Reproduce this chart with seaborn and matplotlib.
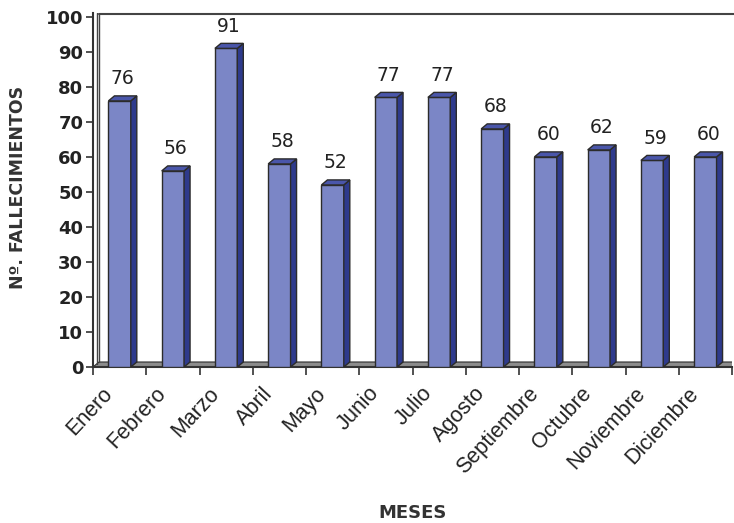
import numpy as np
import pandas as pd
import matplotlib
matplotlib.use("Agg")
import matplotlib.pyplot as plt
import matplotlib.transforms as mtransforms
from matplotlib.patches import Polygon
import seaborn as sns

# datos
meses = ["Enero", "Febrero", "Marzo", "Abril", "Mayo", "Junio", "Julio",
         "Agosto", "Septiembre", "Octubre", "Noviembre", "Diciembre"]
fallecimientos = [76, 56, 91, 58, 52, 77, 77, 68, 60, 62, 59, 60]
y_ticks = [0, 10, 20, 30, 40, 50, 60, 70, 80, 90, 100]

df = pd.DataFrame({"mes": meses, "n": fallecimientos})

sns.set_style("white")
plt.rcParams["font.family"] = ["DejaVu Sans"]

W, H = 734, 523
fig = plt.figure(figsize=(W / 100, H / 100), dpi=100)
ax = fig.add_axes([93 / W, 1 - 367 / H, (732 - 93) / W, (367 - 13) / H])

cara = "#7b86c6"
lado = "#2e3a8c"
tapa = "#4a56aa"
borde = "#2b2b2b"

sns.barplot(data=df, x="mes", y="n", color=cara, width=0.42,
            edgecolor=borde, linewidth=1.0, saturation=1, ax=ax, zorder=3)

ymax = 101.1
ax.set_xlim(-0.5, len(meses) - 0.5)
ax.set_ylim(0, ymax)

# profundidad 3D en unidades de datos (px -> datos)
px_x = len(meses) / (732 - 93)
px_y = ymax / (367 - 13)
dx, dy = 6 * px_x, 5 * px_y

barras = list(ax.patches)

# suelo y pared del fondo
x0, x1 = -0.5, len(meses) - 0.5
ax.add_patch(Polygon([(x0, 0), (x1, 0), (x1 + dx, dy), (x0 + dx, dy)],
                     closed=True, facecolor="#8c8c8c", edgecolor=borde, lw=0.8, zorder=1))
ax.plot([x0 + 0.6 * dx, x0 + 0.6 * dx], [0.6 * dy, ymax], color="#444444", lw=1.0, zorder=1)
ax.plot([x0 + dx, x0 + dx], [dy, ymax], color="#444444", lw=1.0, zorder=1)
ax.plot([x0 + dx, x1 + dx], [ymax - 0.2, ymax - 0.2], color="#444444", lw=1.5,
        zorder=1, clip_on=False)

for p, v in zip(barras, fallecimientos):
    xl = p.get_x()
    xr = xl + p.get_width()
    h = p.get_height()
    ax.add_patch(Polygon([(xr, 0), (xr + dx, dy), (xr + dx, h + dy), (xr, h)],
                         closed=True, facecolor=lado, edgecolor=borde, lw=1.0, zorder=3))
    ax.add_patch(Polygon([(xl, h), (xr, h), (xr + dx, h + dy), (xl + dx, h + dy)],
                         closed=True, facecolor=tapa, edgecolor=borde, lw=1.0, zorder=3))
    ax.text(xl + (p.get_width() + dx) / 2, h + dy + 2.2, str(v), ha="center", va="bottom",
            fontsize=13.5, color="#222222", zorder=4)

ax.set_xlabel("")
ax.set_ylabel("")
ax.set_yticks(y_ticks)
ax.set_yticklabels([str(t) for t in y_ticks], fontsize=13, fontweight="bold", color="#222222")
ax.set_xticks(np.arange(len(meses) + 1) - 0.5)
ax.set_xticklabels([])

# etiquetas de meses desplazadas como en el original
desplaza = mtransforms.ScaledTranslation(-18 / 100, -16 / 100, fig.dpi_scale_trans)
tr = ax.get_xaxis_transform() + desplaza
for i, m in enumerate(meses):
    ax.text(i, 0, m, transform=tr, rotation=47, ha="right", va="top",
            rotation_mode="anchor", fontsize=15.5, family=["Liberation Sans"],
            color="#222222", clip_on=False)

ax.tick_params(axis="x", bottom=True, length=6, width=1.2,
               color="#333333", direction="out")
ax.tick_params(axis="y", left=True, length=5, width=1.2, color="#333333",
               direction="out", pad=2)

for s in ["top", "right"]:
    ax.spines[s].set_visible(False)
for s in ["left", "bottom"]:
    ax.spines[s].set_color("#333333")
    ax.spines[s].set_linewidth(1.5)

fig.text(18 / W, 1 - 187 / H, "Nº. FALLECIMIENTOS", rotation=90, ha="center", va="center",
         fontsize=12.5, fontweight="bold", color="#333333")
fig.text(413 / W, 1 - 513 / H, "MESES", ha="center", va="center",
         fontsize=13, fontweight="bold", color="#333333")

fig.savefig("out.png", dpi=100)
